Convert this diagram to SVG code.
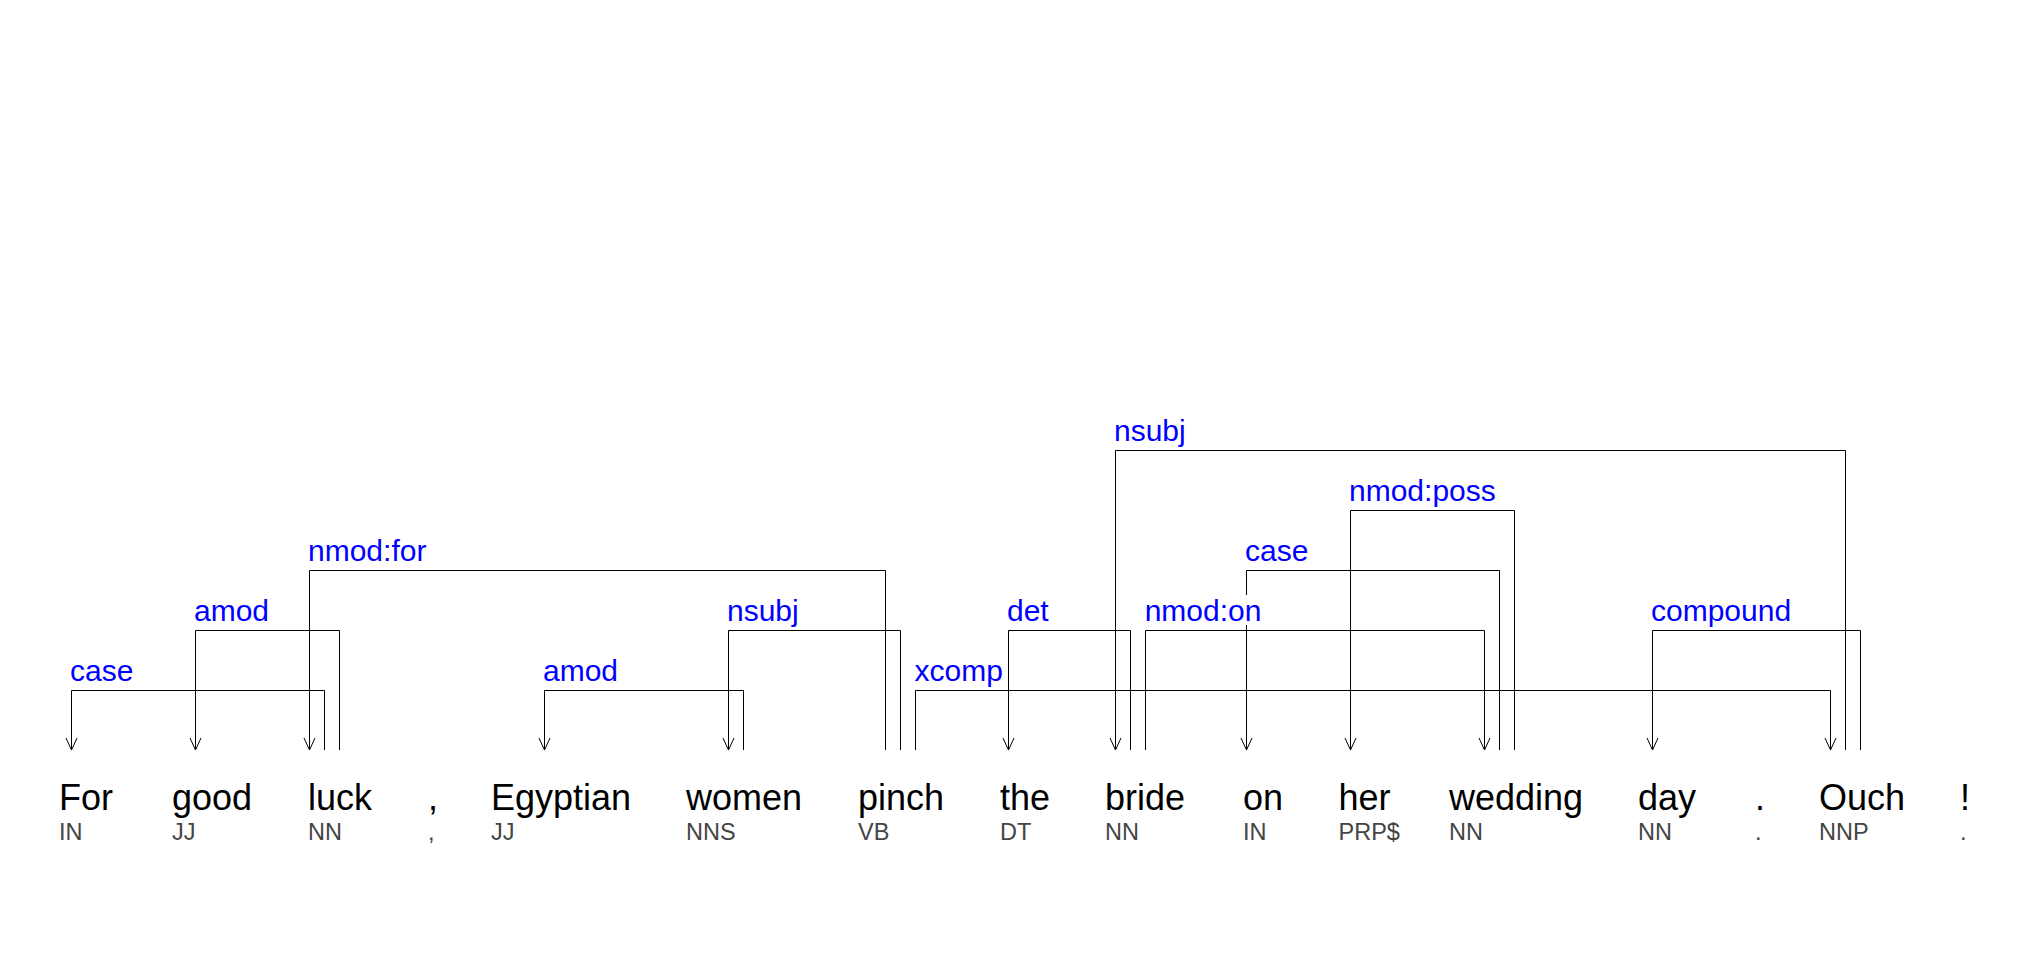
<svg xmlns="http://www.w3.org/2000/svg" width="2025" height="960" viewBox="0 0 2025 960">
<style>
.word{font-family:"Liberation Sans",Arial,sans-serif;font-size:36px;fill:#000}
.tag{font-family:"Liberation Sans",Arial,sans-serif;font-size:23.5px;fill:#444}
.lbl{font-family:"Liberation Sans",Arial,sans-serif;font-size:30px;fill:#0000ff}
.edge{fill:none;stroke:#000;stroke-width:1}
.edge.arr{marker-end:url(#arrow)}
.bg{fill:#fff}
</style>
<defs>
<marker id="arrow" markerUnits="userSpaceOnUse" orient="auto" refX="0" refY="0" markerWidth="20" markerHeight="20" overflow="visible">
<path d="M-12,-5.5 L0,0 L-12,5.5" fill="none" stroke="#000" stroke-width="1"/>
</marker>
</defs>
<rect width="2025" height="960" fill="#fff"/>
<g id="connectors">
<path class="edge arr" d="M324.5,750 V690.5 H71.5 V750"/>
<path class="edge arr" d="M339.5,750 V630.5 H195.5 V750"/>
<path class="edge arr" d="M885.5,750 V570.5 H309.5 V750"/>
<path class="edge arr" d="M743.5,750 V690.5 H544.5 V750"/>
<path class="edge arr" d="M900.5,750 V630.5 H728.5 V750"/>
<path class="edge arr" d="M915.5,750 V690.5 H1830.5 V750"/>
<path class="edge arr" d="M1130.5,750 V630.5 H1008.5 V750"/>
<path class="edge arr" d="M1845.5,750 V450.5 H1115.5 V750"/>
<path class="edge arr" d="M1145.5,750 V630.5 H1484.5 V750"/>
<path class="edge arr" d="M1499.5,750 V570.5 H1246.5 V750"/>
<path class="edge arr" d="M1514.5,750 V510.5 H1350.5 V750"/>
<path class="edge arr" d="M1860.5,750 V630.5 H1652.5 V750"/>
</g>
<g id="edge-labels">
<g id="l-case1"><rect class="bg" x="71" y="655" width="64" height="30"/><text class="lbl" x="70" y="680.8">case</text></g>
<g id="l-amod1"><rect class="bg" x="195" y="595" width="75" height="30"/><text class="lbl" x="194" y="620.8">amod</text></g>
<g id="l-nmodfor"><rect class="bg" x="309" y="535" width="118" height="30"/><text class="lbl" x="308" y="560.8">nmod:for</text></g>
<g id="l-amod2"><rect class="bg" x="544" y="655" width="75" height="30"/><text class="lbl" x="543" y="680.8">amod</text></g>
<g id="l-nsubj1"><rect class="bg" x="728" y="595" width="72" height="30"/><text class="lbl" x="727" y="620.8">nsubj</text></g>
<g id="l-xcomp"><rect class="bg" x="915" y="655" width="88" height="30"/><text class="lbl" x="914.5" y="680.8">xcomp</text></g>
<g id="l-det"><rect class="bg" x="1008" y="595" width="42" height="30"/><text class="lbl" x="1007" y="620.8">det</text></g>
<g id="l-nsubj2"><rect class="bg" x="1115" y="415" width="72" height="30"/><text class="lbl" x="1114" y="440.8">nsubj</text></g>
<g id="l-nmodon"><rect class="bg" x="1145" y="595" width="117" height="30"/><text class="lbl" x="1144.7" y="620.8">nmod:on</text></g>
<g id="l-case2"><rect class="bg" x="1246" y="535" width="64" height="30"/><text class="lbl" x="1245" y="560.8">case</text></g>
<g id="l-nmodposs"><rect class="bg" x="1350" y="475" width="147" height="30"/><text class="lbl" x="1349" y="500.8">nmod:poss</text></g>
<g id="l-compound"><rect class="bg" x="1652" y="595" width="140" height="30"/><text class="lbl" x="1651" y="620.8">compound</text></g>
</g>
<g id="t1"><text class="word" x="59" y="810">For</text><text class="tag" x="59" y="840">IN</text></g>
<g id="t2"><text class="word" x="172" y="810">good</text><text class="tag" x="172" y="840">JJ</text></g>
<g id="t3"><text class="word" x="308" y="810">luck</text><text class="tag" x="308" y="840">NN</text></g>
<g id="t4"><text class="word" x="428" y="810">,</text><text class="tag" x="428" y="840">,</text></g>
<g id="t5"><text class="word" x="491" y="810">Egyptian</text><text class="tag" x="491" y="840">JJ</text></g>
<g id="t6"><text class="word" x="686" y="810">women</text><text class="tag" x="686" y="840">NNS</text></g>
<g id="t7"><text class="word" x="858" y="810">pinch</text><text class="tag" x="858" y="840">VB</text></g>
<g id="t8"><text class="word" x="1000" y="810">the</text><text class="tag" x="1000" y="840">DT</text></g>
<g id="t9"><text class="word" x="1105" y="810">bride</text><text class="tag" x="1105" y="840">NN</text></g>
<g id="t10"><text class="word" x="1243" y="810">on</text><text class="tag" x="1243" y="840">IN</text></g>
<g id="t11"><text class="word" x="1338.5" y="810">her</text><text class="tag" x="1338.5" y="840">PRP$</text></g>
<g id="t12"><text class="word" x="1449" y="810">wedding</text><text class="tag" x="1449" y="840">NN</text></g>
<g id="t13"><text class="word" x="1638" y="810">day</text><text class="tag" x="1638" y="840">NN</text></g>
<g id="t14"><text class="word" x="1755" y="810">.</text><text class="tag" x="1755" y="840">.</text></g>
<g id="t15"><text class="word" x="1819" y="810">Ouch</text><text class="tag" x="1819" y="840">NNP</text></g>
<g id="t16"><text class="word" x="1960" y="810">!</text><text class="tag" x="1960" y="840">.</text></g>
</svg>
